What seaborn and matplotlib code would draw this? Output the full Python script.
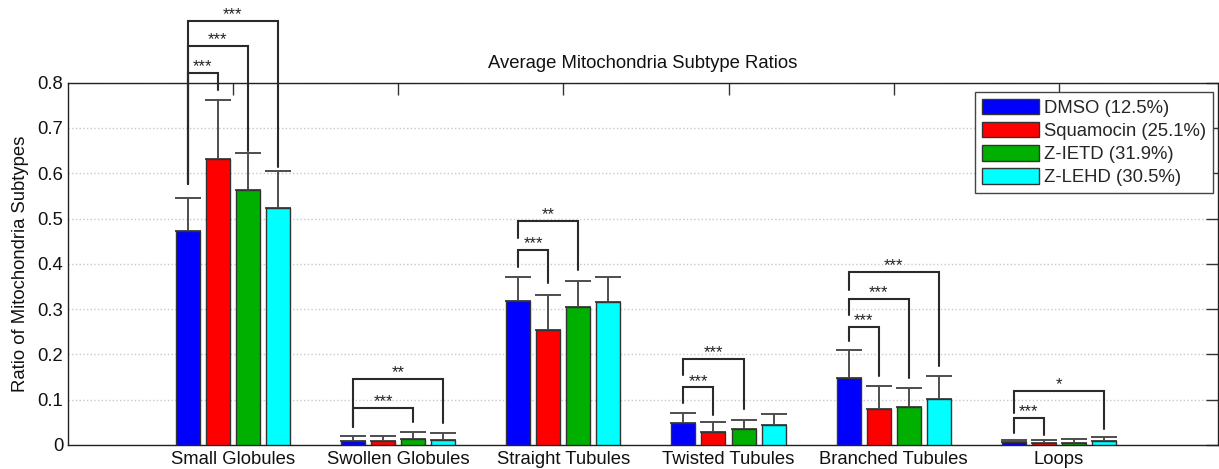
import matplotlib
matplotlib.use("Agg")
import matplotlib.pyplot as plt
import seaborn as sns
import pandas as pd

# Mean subtype ratios per treatment (one list per treatment, ordered as categories)
categories = ["Small Globules", "Swollen Globules", "Straight Tubules",
              "Twisted Tubules", "Branched Tubules", "Loops"]
treatments = ["DMSO (12.5%)", "Squamocin (25.1%)", "Z-IETD (31.9%)", "Z-LEHD (30.5%)"]

dmso_mean = [0.473, 0.009, 0.319, 0.048, 0.148, 0.006]
squamocin_mean = [0.631, 0.009, 0.255, 0.029, 0.079, 0.004]
zietd_mean = [0.563, 0.0125, 0.305, 0.035, 0.083, 0.005]
zlehd_mean = [0.524, 0.012, 0.315, 0.045, 0.101, 0.009]

# Standard deviations (upper error)
dmso_sd = [0.073, 0.011, 0.051, 0.022, 0.061, 0.006]
squamocin_sd = [0.131, 0.011, 0.077, 0.021, 0.052, 0.006]
zietd_sd = [0.081, 0.0165, 0.057, 0.021, 0.043, 0.008]
zlehd_sd = [0.081, 0.014, 0.055, 0.023, 0.051, 0.008]

# Significance brackets: (category index, treatment a, treatment b, label)
sig_pairs = [
    (0, 0, 1, "***"), (0, 0, 2, "***"), (0, 0, 3, "***"),
    (1, 0, 2, "***"), (1, 0, 3, "**"),
    (2, 0, 1, "***"), (2, 0, 2, "**"),
    (3, 0, 1, "***"), (3, 0, 2, "***"),
    (4, 0, 1, "***"), (4, 0, 2, "***"), (4, 0, 3, "***"),
    (5, 0, 1, "***"), (5, 0, 3, "*"),
]
# Bracket geometry in data units: (top, left leg end, right leg end)
sig_levels = [
    (0.822, 0.577, 0.784), (0.881, 0.577, 0.649), (0.937, 0.577, 0.614),
    (0.082, 0.040, 0.051), (0.145, 0.040, 0.049),
    (0.431, 0.392, 0.358), (0.494, 0.458, 0.386),
    (0.127, 0.092, 0.066), (0.190, 0.154, 0.079),
    (0.261, 0.229, 0.152), (0.322, 0.287, 0.148), (0.382, 0.343, 0.174),
    (0.060, 0.026, 0.023), (0.120, 0.070, 0.035),
]

means = [dmso_mean, squamocin_mean, zietd_mean, zlehd_mean]
sds = [dmso_sd, squamocin_sd, zietd_sd, zlehd_sd]
colors = ["#0000ff", "#ff0000", "#00b000", "#00ffff"]

df = pd.DataFrame({
    "category": [c for _ in treatments for c in categories],
    "treatment": [t for t in treatments for _ in categories],
    "ratio": [v for m in means for v in m],
})

sns.set_theme(style="white")
plt.rcParams["font.family"] = ["Liberation Sans", "DejaVu Sans"]
FS = 13.3

fig = plt.figure(figsize=(12.19, 4.69), dpi=100)
ax = fig.add_axes([0.0555, 0.0512, 0.9437, 0.7725])

sns.barplot(data=df, x="category", y="ratio", hue="treatment", order=categories,
            hue_order=treatments, palette=colors, saturation=1, width=0.727, gap=0.2,
            edgecolor="#333333", linewidth=1.0, errorbar=None, ax=ax, zorder=3)

# Bar centres per treatment, taken from the drawn bars
centers = []
for cont, sd in zip(ax.containers, sds):
    xs = [b.get_x() + b.get_width() / 2 for b in cont]
    hs = [b.get_height() for b in cont]
    centers.append(xs)
    ax.errorbar(xs, hs, yerr=[[0] * len(sd), sd], fmt="none", ecolor="#4d4d4d",
                elinewidth=1.4, capsize=9.5, capthick=1.4, zorder=2)

# Significance brackets
for (ci, a, b, lab), (top, yl, yr) in zip(sig_pairs, sig_levels):
    xa, xb = centers[a][ci], centers[b][ci]
    ax.plot([xa, xa, xb, xb], [yl, top, top, yr], color="#2a2a2a", lw=1.5,
            clip_on=False, zorder=4, solid_joinstyle="miter")
    ax.text((xa + xb) / 2, top + 0.004, lab, ha="center", va="baseline",
            fontsize=12, color="#222222", clip_on=False)

ax.set_xlim(-1, 5.963)
ax.set_ylim(0, 0.8)
ax.set_yticks([0, 0.1, 0.2, 0.3, 0.4, 0.5, 0.6, 0.7, 0.8])
ax.set_yticklabels(["0", "0.1", "0.2", "0.3", "0.4", "0.5", "0.6", "0.7", "0.8"])
ax.yaxis.grid(True, linestyle=":", color="#c8c8c8", linewidth=1.0)
ax.set_axisbelow(True)
ax.tick_params(direction="in", top=True, right=True, length=8.6, width=1.0,
               color="#333333", labelsize=FS, labelcolor="#111111")
ax.tick_params(axis="x", pad=4.5)
ax.tick_params(axis="y", pad=3.2)
for s in ax.spines.values():
    s.set_color("#222222")
    s.set_linewidth(1.0)

ax.set_xlabel("")
ax.set_ylabel("Ratio of Mitochondria Subtypes", fontsize=FS, labelpad=6, color="#111111")
ax.set_title("Average Mitochondria Subtype Ratios", fontsize=FS, pad=10.8, color="#111111")

handles, labels = ax.get_legend_handles_labels()
leg = ax.legend(handles, labels, loc="upper right", bbox_to_anchor=(0.9957, 0.9735),
                borderaxespad=0, fontsize=FS, handlelength=3.08, handleheight=0.92,
                handletextpad=0.32, labelspacing=0.27, borderpad=0.35,
                fancybox=False, frameon=True)
leg.get_frame().set_edgecolor("#444444")
leg.get_frame().set_linewidth(1.0)
leg.get_frame().set_alpha(1)

fig.savefig("out.png", dpi=100)
